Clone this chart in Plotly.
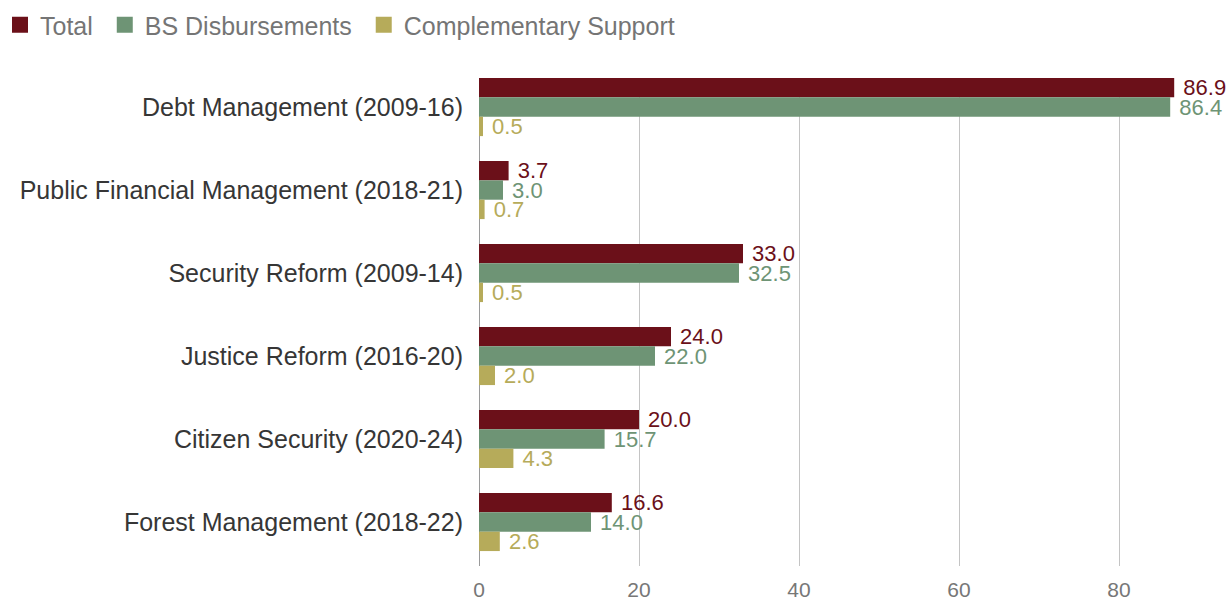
import plotly.graph_objects as go

categories = [
    "Debt Management (2009-16)",
    "Public Financial Management (2018-21)",
    "Security Reform (2009-14)",
    "Justice Reform (2016-20)",
    "Citizen Security (2020-24)",
    "Forest Management (2018-22)",
]
total = [86.9, 3.7, 33.0, 24.0, 20.0, 16.6]
bs_disbursements = [86.4, 3.0, 32.5, 22.0, 15.7, 14.0]
complementary = [0.5, 0.7, 0.5, 2.0, 4.3, 2.6]
tick_values = [0, 20, 40, 60, 80]

FONT = "Liberation Sans, Arial, sans-serif"
NBSP = "\u00a0"

series = [
    ("Total", total, "#6b1019"),
    ("BS Disbursements", bs_disbursements, "#6e9475"),
    ("Complementary Support", complementary, "#b6ab5a"),
]

fig = go.Figure()
for name, vals, color in series:
    fig.add_trace(go.Bar(
        name=name,
        y=categories,
        x=vals,
        orientation="h",
        marker=dict(color=color, line=dict(width=0)),
        text=[f"{NBSP}{v:.1f}" for v in vals],
        textposition="outside",
        constraintext="none",
        textfont=dict(color=color, size=22, family=FONT),
        cliponaxis=False,
        showlegend=False,
    ))

# legend entries drawn as square swatches
for i, (name, vals, color) in enumerate(series):
    label = name + (NBSP if i < len(series) - 1 else "")
    fig.add_trace(go.Scatter(
        name=label,
        x=[None], y=[None],
        mode="markers",
        marker=dict(symbol="square", size=16, color=color),
        showlegend=True,
    ))

n = len(categories)
fig.update_layout(
    width=1229,
    height=601,
    barmode="group",
    bargap=0.3,
    bargroupgap=0,
    plot_bgcolor="white",
    paper_bgcolor="white",
    margin=dict(l=479, r=0, t=78, b=29),
    font=dict(family=FONT, color="#666666"),
    legend=dict(
        orientation="h",
        xref="container", yref="container",
        x=0, y=1 - 25 / 601,
        xanchor="left", yanchor="middle",
        font=dict(size=25, color="#757575", family=FONT),
        traceorder="normal",
        itemsizing="trace",
        bgcolor="rgba(0,0,0,0)",
    ),
    xaxis=dict(
        range=[0, 93.75],
        tickvals=tick_values,
        showgrid=True,
        gridcolor="#c4c4c4",
        gridwidth=1,
        zeroline=True,
        zerolinecolor="#9a9a9a",
        zerolinewidth=1,
        tickfont=dict(size=21, color="#777777", family=FONT),
        ticks="",
        ticklabelstandoff=9,
    ),
    yaxis=dict(
        range=[n - 1 + 0.53, -0.35],
        tickfont=dict(size=25, color="#363636", family=FONT),
        ticks="outside",
        ticklen=10,
        tickcolor="white",
    ),
)

fig.write_html("out.html")
